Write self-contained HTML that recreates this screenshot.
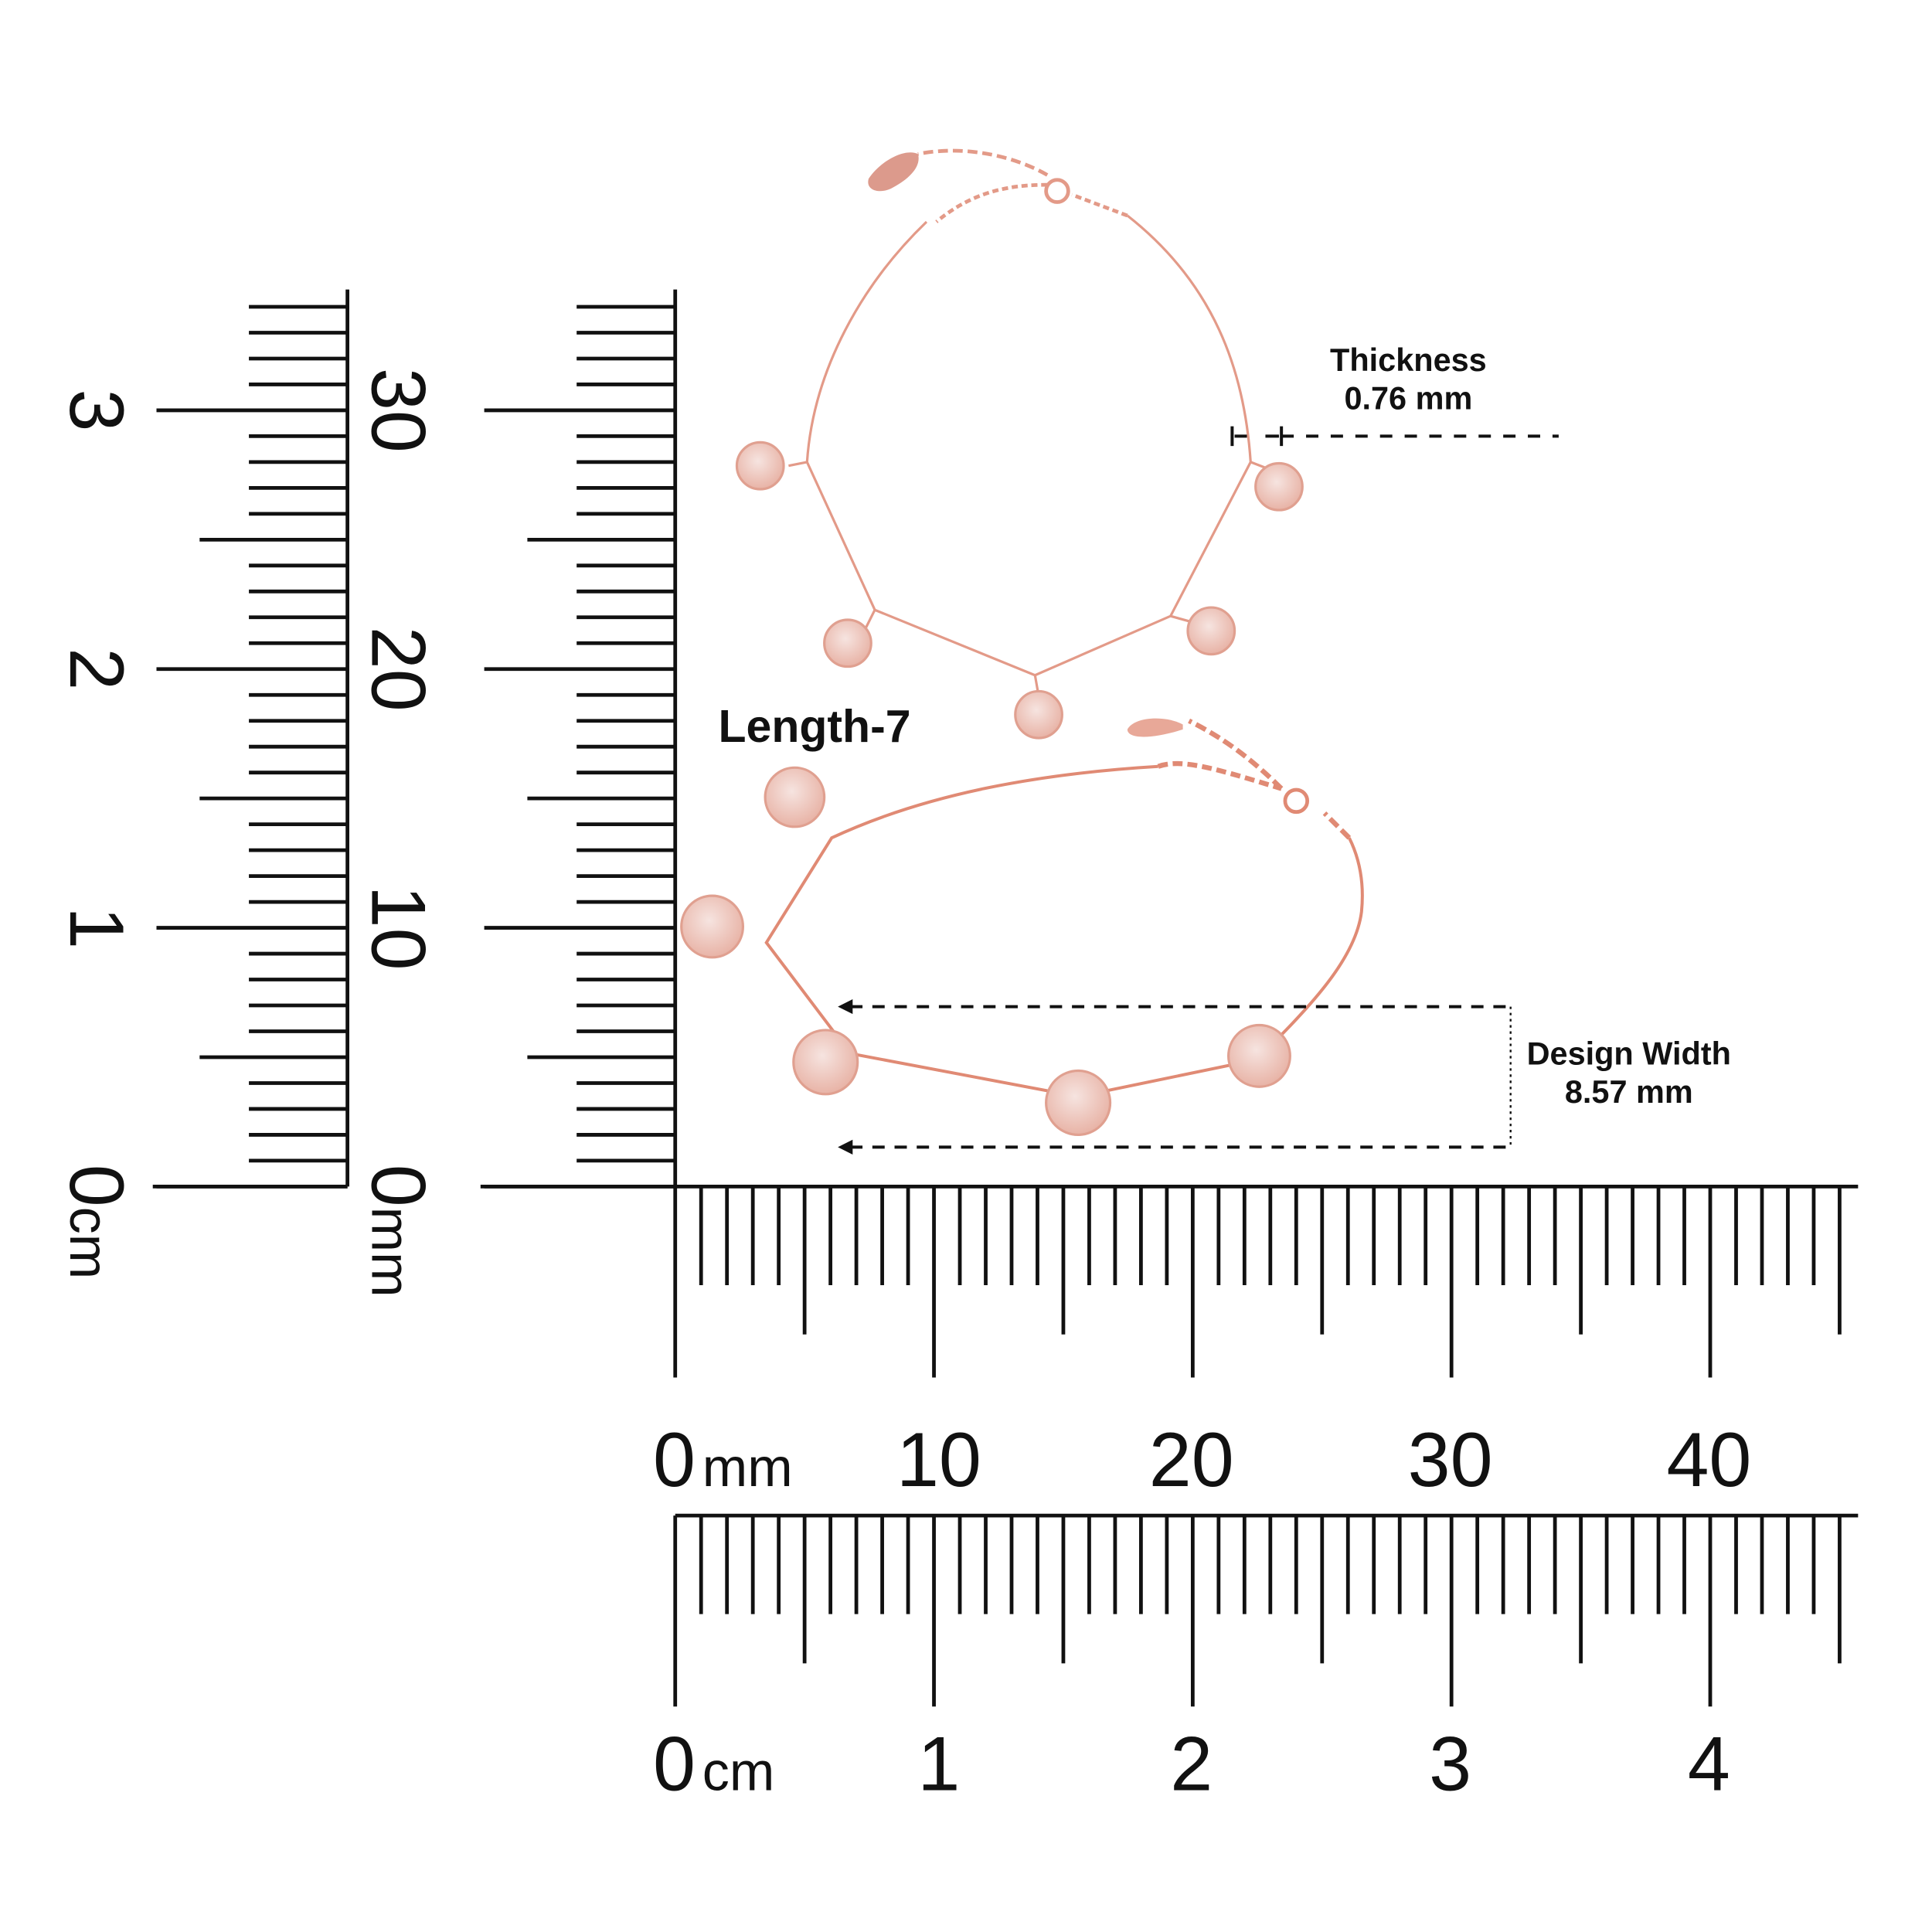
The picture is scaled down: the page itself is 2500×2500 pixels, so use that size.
<!DOCTYPE html>
<html><head><meta charset="utf-8"><style>html,body{margin:0;padding:0;background:#fff}svg{display:block}</style></head>
<body>
<svg width="2500" height="2500" viewBox="0 0 1568 1568" xmlns="http://www.w3.org/2000/svg" font-family="Liberation Sans, sans-serif">
<defs>
<path id="hr" d="M548,963v155m21,-155v80m21,-80v80m21,-80v80m21,-80v80m21,-80v120m21,-120v80m21,-80v80m21,-80v80m21,-80v80m21,-80v155m21,-155v80m21,-80v80m21,-80v80m21,-80v80m21,-80v120m21,-120v80m21,-80v80m21,-80v80m21,-80v80m21,-80v155m21,-155v80m21,-80v80m21,-80v80m21,-80v80m21,-80v120m21,-120v80m21,-80v80m21,-80v80m21,-80v80m21,-80v155m21,-155v80m21,-80v80m21,-80v80m21,-80v80m21,-80v120m21,-120v80m21,-80v80m21,-80v80m21,-80v80m21,-80v155m21,-155v80m21,-80v80m21,-80v80m21,-80v80m21,-80v120"/>
<path id="vr" d="M548,963h-155m155,-21h-80m80,-21h-80m80,-21h-80m80,-21h-80m80,-21h-120m120,-21h-80m80,-21h-80m80,-21h-80m80,-21h-80m80,-21h-155m155,-21h-80m80,-21h-80m80,-21h-80m80,-21h-80m80,-21h-120m120,-21h-80m80,-21h-80m80,-21h-80m80,-21h-80m80,-21h-155m155,-21h-80m80,-21h-80m80,-21h-80m80,-21h-80m80,-21h-120m120,-21h-80m80,-21h-80m80,-21h-80m80,-21h-80m80,-21h-155m155,-21h-80m80,-21h-80m80,-21h-80m80,-21h-80"/>
<radialGradient id="bg" cx="0.45" cy="0.4" r="0.6"><stop offset="0" stop-color="#f6e4e0"/><stop offset="1" stop-color="#e8b3a6"/></radialGradient>
</defs>
<g stroke="#111" stroke-width="3" fill="none">
<use href="#hr"/>
<use href="#hr" transform="translate(0,267)"/>
<use href="#vr"/>
<use href="#vr" transform="translate(-266,0)"/>
<path d="M390,963H1508M548,235V963M124,963H282M282,235V963M548,1230H1508"/>
</g>
<g fill="#111" font-size="62">
<text x="530" y="1206">0</text><text x="570" y="1206" font-size="44">mm</text>
<text x="762" y="1206" text-anchor="middle">10</text>
<text x="967" y="1206" text-anchor="middle">20</text>
<text x="1177" y="1206" text-anchor="middle">30</text>
<text x="1387" y="1206" text-anchor="middle">40</text>
<text x="530" y="1453">0</text><text x="570" y="1453" font-size="44">cm</text>
<text x="762" y="1453" text-anchor="middle">1</text>
<text x="967" y="1453" text-anchor="middle">2</text>
<text x="1177" y="1453" text-anchor="middle">3</text>
<text x="1387" y="1453" text-anchor="middle">4</text>
<text transform="translate(302,333) rotate(90)" text-anchor="middle">30</text>
<text transform="translate(302,543) rotate(90)" text-anchor="middle">20</text>
<text transform="translate(302,753) rotate(90)" text-anchor="middle">10</text>
<text transform="translate(302,945) rotate(90)">0<tspan font-size="44">mm</tspan></text>
<text transform="translate(57,333) rotate(90)" text-anchor="middle">3</text>
<text transform="translate(57,543) rotate(90)" text-anchor="middle">2</text>
<text transform="translate(57,753) rotate(90)" text-anchor="middle">1</text>
<text transform="translate(57,945) rotate(90)">0<tspan font-size="44">cm</tspan></text>
</g>
<!-- top bracelet -->
<g fill="none" stroke="#e39a88" stroke-width="2">
<path d="M752,180 C700,230 660,300 655,375 L710,495 L840,548 L950,500 L1015,375 C1010,300 985,230 915,175"/>
<path d="M915,175 L870,158 M850,150 C820,150 790,155 760,180" stroke-dasharray="5,3" stroke-width="3"/>
<path d="M850,142 C820,125 780,118 745,125" stroke-dasharray="8,4" stroke-width="3"/>
<circle cx="858" cy="155" r="9" stroke-width="3"/>
<path d="M655,375L640,378M710,495L700,515M840,548L843,565M950,500L968,505M1015,375L1028,380"/>
</g>
<path d="M745,125 C735,120 715,130 705,145 C702,155 715,158 725,152 C738,145 748,135 745,125Z" fill="#dc9a8c"/>
<g fill="url(#bg)" stroke="#e0a090" stroke-width="2">
<circle cx="617" cy="378" r="19"/><circle cx="688" cy="522" r="19"/><circle cx="843" cy="580" r="19"/><circle cx="983" cy="512" r="19"/><circle cx="1038" cy="395" r="19"/>
</g>
<!-- bottom bracelet -->
<g fill="none" stroke="#e08a74" stroke-width="2.5">
<path d="M940,622 C840,628 750,645 675,680 L622,765 L690,855 L875,890 L1020,860 C1060,820 1100,780 1105,740 C1108,710 1100,690 1095,680"/>
<path d="M1095,680 L1075,660 M1040,640 C1010,610 985,595 965,585" stroke-dasharray="9,4" stroke-width="4"/>
<path d="M940,622 C960,615 990,625 1040,640" stroke-dasharray="8,4" stroke-width="4"/>
<circle cx="1052" cy="650" r="9" stroke-width="3"/>
</g>
<path d="M960,588 C945,580 920,582 915,592 C915,600 935,600 960,592Z" fill="#e8a898"/>
<g fill="url(#bg)" stroke="#e0a090" stroke-width="2">
<circle cx="645" cy="647" r="24"/><circle cx="578" cy="752" r="25"/><circle cx="670" cy="862" r="26"/><circle cx="875" cy="895" r="26"/><circle cx="1022" cy="857" r="25"/>
</g>
<!-- annotations -->
<g stroke="#111" stroke-width="2.5" fill="none">
<path d="M1040,354H1265" stroke-dasharray="10,10"/>
<path d="M1002,354H1012M1027,354H1038" />
<path d="M1000,346v16M1040,346v16"/>
<path d="M690,817H1226M690,931H1226" stroke-dasharray="10,8"/>
<path d="M1226,817V931" stroke-dasharray="2,3" stroke-width="1.5"/>
</g>
<path d="M680,817l12,-6v12z M680,931l12,-6v12z" fill="#111"/>
<g fill="#111" font-weight="bold" font-size="26" text-anchor="middle">
<text x="1143" y="301">Thickness</text>
<text x="1143" y="332">0.76 mm</text>
<text x="1322" y="864">Design Width</text>
<text x="1322" y="895">8.57 mm</text>
</g>
<text x="583" y="602" font-size="37" font-weight="bold" fill="#111">Length-7</text>
</svg>
</body></html>
